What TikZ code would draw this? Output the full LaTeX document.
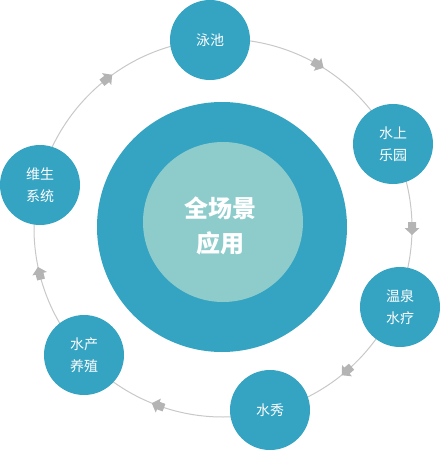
\documentclass[tikz,border=0pt]{standalone}
\usepackage{fontspec}
\newfontfamily\cjk{Noto Sans CJK SC}
\usetikzlibrary{calc}
\definecolor{teal1}{HTML}{35A3C2}
\definecolor{teal2}{HTML}{8ECCCC}
\definecolor{ringgray}{HTML}{C8C8C8}
\definecolor{arrowgray}{HTML}{B4B4B4}
\tikzset{
  x=1pt,y=1pt,
  smallc/.style={circle,fill=teal1,minimum size=80pt,inner sep=0pt,text=white,align=center,
    font=\cjk\fontsize{14}{22}\selectfont},
  blockarrow/.pic={\fill[arrowgray] (-6,-4) -- (0,-4) -- (0,-7.5) -- (7,0) -- (0,7.5) -- (0,4) -- (-6,4) -- cycle;}
}
\begin{document}
\begin{tikzpicture}
\useasboundingbox (0,0) rectangle (440,-450);
\coordinate (c) at (223,-228);
\draw[ringgray,line width=1pt] (c) circle[radius=189];
\node[circle,fill=teal1,minimum size=250pt,inner sep=0pt] (outer) at (222,-227) {};
\node[circle,fill=teal2,minimum size=160pt,inner sep=0pt] (inner) at (223,-222) {};
\node[text=white,align=center,inner sep=0pt,
  font=\cjk\bfseries\fontsize{24}{35}\selectfont] (title) at (220,-226) {全场景\\应用};
\node[smallc] (pool) at (210,-40) {泳池};
\node[smallc] (park) at (393,-144) {水上\\乐园};
\node[smallc] (spa) at (400,-307) {温泉\\水疗};
\node[smallc] (show) at (270,-410) {水秀};
\node[smallc] (aqua) at (84,-355) {水产\\养殖};
\node[smallc] (life) at (40,-185) {维生\\系统};
\foreach \a in {60,0,-49,-110,194,128}{
  \pic[rotate=\a-90] at ($(c)+(\a:189)$) {blockarrow};
}
\end{tikzpicture}
\end{document}
